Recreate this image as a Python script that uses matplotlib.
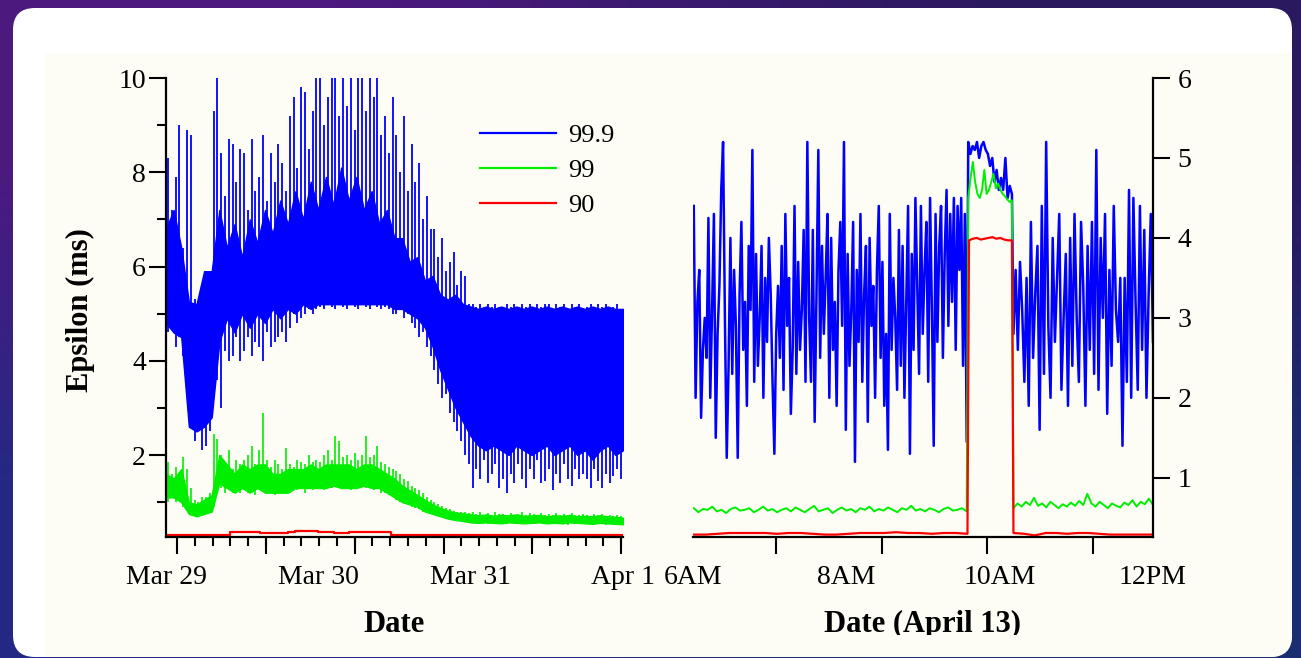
import numpy as np
import matplotlib
matplotlib.use("Agg")
import matplotlib.pyplot as plt
from matplotlib.patches import FancyBboxPatch, Rectangle
from matplotlib.lines import Line2D
from matplotlib.transforms import blended_transform_factory

plt.rcParams["font.family"] = ["Liberation Serif", "DejaVu Serif"]

W, H = 1301, 658
BLUE, GREEN, RED = "#0000ff", "#00ee00", "#ff0000"

# ---------------- left panel (days since Mar 29) ----------------
# solid core of the dense traces, every 0.05 day
left_t = np.linspace(0, 3.0, 61)
blue_lo = [4.8, 4.6, 4.5, 2.6, 2.5, 2.6, 2.8,
           4.4, 4.9, 4.6, 5.0, 4.7, 5.0, 4.8, 5.1, 4.9, 5.1, 5.0, 5.2, 5.1, 5.2,
           5.2, 5.2, 5.2, 5.2, 5.2, 5.2, 5.2, 5.2, 5.2, 5.1,
           5.1, 5.0, 4.9, 4.7, 4.3, 3.8, 3.4, 3.0, 2.7,
           2.4, 2.2, 2.1, 2.2, 2.1, 2.0, 2.2, 2.1, 2.0, 2.1, 2.2, 2.0, 2.1, 2.2, 2.0, 2.1,
           1.9, 2.1, 2.2, 2.0, 2.1]
blue_hi = [6.8, 7.2, 6.4, 5.25, 5.2, 5.9, 5.9,
           7.2, 6.4, 6.9, 6.2, 7.0, 6.5, 7.2, 6.7, 7.4, 6.9, 7.6, 7.0, 7.8, 7.2,
           7.9, 7.3, 8.1, 7.4, 7.9, 7.2, 7.6, 6.9, 7.2, 6.6,
           6.6, 6.1, 6.2, 5.7, 5.8, 5.4, 5.3, 5.4, 5.2,
           5.15, 5.1, 5.15, 5.1, 5.15, 5.1, 5.15, 5.1, 5.15, 5.1, 5.15, 5.1, 5.15, 5.1,
           5.15, 5.1, 5.15, 5.1, 5.15, 5.1, 5.1]
green_lo = [1.1, 1.1, 1.0, 0.75, 0.7, 0.75, 0.8, 1.4, 1.3, 1.2, 1.3, 1.2, 1.3, 1.2, 1.2, 1.2,
            1.2, 1.3, 1.3, 1.3, 1.3, 1.3, 1.35, 1.3, 1.3, 1.3, 1.35, 1.3, 1.3, 1.2, 1.1, 1.0,
            0.95, 0.9, 0.8, 0.75, 0.7, 0.65, 0.62, 0.6, 0.57, 0.56, 0.57, 0.56, 0.55, 0.57,
            0.56, 0.55, 0.56, 0.57, 0.55, 0.56, 0.55, 0.57, 0.56, 0.55, 0.54, 0.56, 0.55,
            0.54, 0.53]
green_hi = [1.6, 1.5, 1.7, 1.0, 0.95, 1.05, 1.15, 2.0, 1.8, 1.6, 1.8, 1.7, 1.8, 1.8, 1.6, 1.6,
            1.7, 1.7, 1.7, 1.8, 1.7, 1.8, 1.8, 1.8, 1.8, 1.7, 1.8, 1.8, 1.7, 1.6, 1.5, 1.35,
            1.25, 1.15, 1.05, 0.95, 0.88, 0.82, 0.78, 0.76, 0.74, 0.72, 0.74, 0.71, 0.73, 0.72,
            0.74, 0.71, 0.72, 0.73, 0.7, 0.72, 0.71, 0.73, 0.7, 0.71, 0.7, 0.72, 0.7,
            0.69, 0.67]

# individual excursions, one stroke every 0.025 day
stroke_t = np.linspace(0.0125, 2.9875, 120)
blue_st_hi = [8.3, 7.2, 7.9, 9.0, 6.4, 8.9, 8.8, 5.3, 5.2, 5.1,
              5.9, 5.9, 9.3, 10.0, 8.4, 7.5, 8.7, 8.6, 7.8, 8.5,
              8.4, 7.2, 8.7, 7.6, 7.9, 8.8, 7.4, 8.4, 7.8, 8.6,
              8.2, 7.6, 9.2, 9.6, 8.1, 9.8, 9.7, 8.5, 9.3, 10.0,
              10.0, 9.0, 9.6, 10.0, 10.0, 9.2, 10.0, 9.4, 10.0, 8.9,
              10.0, 10.0, 9.3, 10.0, 9.6, 10.0, 8.8, 9.2, 8.4, 9.6,
              8.8, 8.0, 9.2, 7.6, 8.6, 7.8, 8.2, 7.0, 7.5, 6.8,
              6.8, 6.2, 6.6, 5.9, 6.1, 6.3, 5.6, 5.9, 5.8, 5.2,
              5.2, 5.15, 5.2, 5.1, 5.2, 5.15, 5.2, 5.15, 5.1, 5.2,
              5.15, 5.2, 5.1, 5.2, 5.15, 5.2, 5.1, 5.2, 5.15, 5.2,
              5.2, 5.1, 5.2, 5.15, 5.2, 5.1, 5.2, 5.15, 5.2, 5.1,
              5.15, 5.2, 5.1, 5.2, 5.15, 5.2, 5.1, 5.15, 5.2, 4.3]
blue_st_lo = [4.6, 5.2, 4.3, 4.5, 4.1, 4.5, 4.4, 2.3, 2.6, 2.1,
              2.2, 2.5, 3.4, 3.6, 3.0, 4.2, 4.0, 4.1, 4.5, 4.0,
              4.2, 4.5, 4.1, 4.4, 4.3, 4.0, 4.6, 4.3, 4.4, 4.5,
              4.6, 4.4, 4.7, 5.0, 4.8, 4.9, 5.0, 5.1, 5.0, 5.1,
              5.15, 5.1, 5.2, 5.15, 5.1, 5.2, 5.15, 5.1, 5.2, 5.15,
              5.1, 5.2, 5.15, 5.1, 5.2, 5.15, 5.1, 5.15, 5.1, 5.0,
              5.0, 5.1, 4.9, 5.0, 4.8, 4.7, 4.5, 4.6, 4.3, 4.1,
              3.8, 3.5, 3.2, 3.3, 2.9, 2.7, 2.5, 2.3, 2.0, 1.8,
              1.3, 1.7, 1.5, 1.9, 1.4, 1.6, 1.8, 1.3, 1.5, 1.2,
              1.6, 1.4, 1.8, 1.5, 1.3, 1.7, 1.5, 1.9, 1.4, 1.45,
              1.7, 1.25, 1.6, 1.4, 1.8, 1.5, 1.35, 1.7, 1.5, 1.6,
              1.5, 1.3, 1.7, 1.45, 1.3, 1.6, 1.4, 1.55, 1.7, 1.5]
green_st_hi = [1.85, 1.6, 1.75, 1.5, 1.95, 1.7, 1.3, 1.05, 1.0, 1.1,
               1.1, 1.2, 2.45, 2.35, 2.0, 1.8, 2.1, 1.7, 1.9, 1.8,
               1.9, 2.0, 2.2, 1.8, 2.1, 2.9, 1.9, 1.75, 1.9, 1.8,
               1.7, 2.15, 1.8, 1.75, 1.9, 1.85, 1.8, 2.0, 1.85, 1.9,
               1.85, 2.0, 2.1, 1.9, 2.4, 2.3, 1.95, 2.0, 1.9, 2.05,
               1.9, 2.0, 2.4, 1.95, 2.0, 2.2, 1.85, 1.8, 1.75, 1.7,
               1.65, 1.6, 1.5, 1.45, 1.35, 1.3, 1.25, 1.2, 1.1, 1.05,
               1.0, 0.95, 0.92, 0.88, 0.85, 0.82, 0.8, 0.8, 0.78, 0.77,
               0.78, 0.74, 0.8, 0.73, 0.76, 0.72, 0.79, 0.74, 0.75, 0.73,
               0.76, 0.73, 0.75, 0.78, 0.72, 0.76, 0.74, 0.73, 0.77, 0.72,
               0.75, 0.72, 0.77, 0.73, 0.74, 0.71, 0.76, 0.73, 0.72, 0.75,
               0.73, 0.71, 0.74, 0.72, 0.75, 0.7, 0.73, 0.71, 0.72, 0.7]
green_st_lo = [1.0, 1.15, 1.0, 1.1, 0.9, 1.0, 0.8, 0.72, 0.75, 0.7,
               0.75, 0.8, 0.9, 1.4, 1.3, 1.2, 1.25, 1.2, 1.3, 1.2,
               1.25, 1.2, 1.3, 1.15, 1.25, 1.3, 1.2, 1.2, 1.15, 1.2,
               1.2, 1.25, 1.2, 1.3, 1.25, 1.3, 1.2, 1.3, 1.25, 1.3,
               1.3, 1.25, 1.35, 1.3, 1.4, 1.3, 1.35, 1.3, 1.25, 1.35,
               1.3, 1.35, 1.3, 1.3, 1.25, 1.3, 1.2, 1.2, 1.15, 1.1,
               1.05, 1.0, 0.98, 0.95, 0.9, 0.88, 0.85, 0.8, 0.78, 0.75,
               0.72, 0.7, 0.68, 0.66, 0.64, 0.62, 0.61, 0.6, 0.58, 0.58,
               0.56, 0.58, 0.55, 0.57, 0.54, 0.56, 0.57, 0.55, 0.56, 0.54,
               0.55, 0.57, 0.54, 0.56, 0.55, 0.57, 0.54, 0.56, 0.55, 0.54,
               0.54, 0.56, 0.53, 0.55, 0.54, 0.52, 0.55, 0.54, 0.53, 0.55,
               0.53, 0.55, 0.52, 0.54, 0.53, 0.52, 0.54, 0.52, 0.53, 0.51]

red_l_t = [0.0, 0.2, 0.41, 0.42, 0.6, 0.62, 0.8, 0.85, 1.0, 1.1, 1.2, 1.25, 1.4, 1.47, 1.48, 2.2, 3.0]
red_l_v = [0.31, 0.31, 0.31, 0.36, 0.37, 0.35, 0.36, 0.38, 0.36, 0.35, 0.37, 0.36, 0.37, 0.37, 0.31, 0.3, 0.3]

left_xlabels = ["Mar 29", "Mar 30", "Mar 31", "Apr 1"]
left_xlabel_pos = [0, 1, 2, 3]
left_major = [0.072, 0.655, 1.238, 1.822, 2.405, 2.988]

# ---------------- right panel (hours, April 13) ----------------
blue_before = [4.4, 2.0, 3.2, 3.6, 1.75, 2.6, 3.0, 2.5, 4.25, 2.0,
               3.1, 4.3, 1.5, 2.8, 3.4, 4.6, 5.2, 3.0, 1.25, 2.4,
               4.0, 2.3, 3.6, 2.9, 1.25, 3.3, 4.2, 2.6, 3.2, 1.9,
               3.9, 3.1, 5.1, 2.2, 3.8, 2.4, 3.0, 3.9, 2.0, 3.5,
               2.7, 4.0, 3.3, 2.2, 1.3, 2.8, 3.4, 2.5, 3.9, 2.1,
               4.3, 2.9, 3.5, 1.8, 2.6, 4.4, 2.3, 3.7, 2.6, 3.1,
               4.1, 2.2, 5.2, 3.0, 2.2, 4.1, 1.7, 3.3, 5.1, 2.5,
               3.9, 2.8, 3.5, 4.3, 2.0, 4.0, 2.6, 3.2, 1.9, 3.6,
               4.2, 2.9, 5.2, 1.6, 3.8, 2.4, 3.1, 4.2, 1.2, 3.6,
               2.7, 4.3, 2.2, 3.3, 3.9, 1.7, 4.0, 2.9, 3.4, 2.0,
               3.6, 4.4, 2.5, 3.7, 1.9, 2.8, 1.35, 4.3, 2.6, 3.5,
               3.0, 2.1, 4.1, 2.4, 3.9, 2.0, 3.2, 4.4, 1.3, 3.8,
               2.6, 4.5, 3.4, 2.3, 4.4, 2.8, 3.6, 4.2, 2.2, 4.5,
               3.1, 1.4, 4.3, 2.7, 3.9, 4.4, 2.5, 3.8, 4.6, 2.9,
               4.3, 3.2, 4.5, 2.6, 4.4, 3.6, 4.5, 2.4, 4.3, 1.45]
blue_plateau = [5.2, 5.05, 5.15, 5.1, 5.2, 5.0, 5.15, 5.2, 5.1, 5.05, 4.9, 5.0, 4.7, 4.85,
                4.6, 4.75, 4.6, 5.0, 4.5, 4.65, 4.55]
blue_after = [2.8, 3.6, 2.6, 3.7, 3.1, 2.2, 3.5, 1.9, 4.2, 2.5,
              3.3, 3.9, 1.6, 4.4, 2.3, 5.2, 2.9, 2.0, 4.0, 2.7,
              3.5, 4.3, 2.1, 3.0, 3.8, 1.9, 4.0, 2.4, 4.3, 3.0,
              2.2, 4.2, 3.4, 1.9, 3.9, 2.6, 4.2, 2.3, 5.1, 2.1,
              4.0, 3.0, 4.3, 1.8, 3.6, 2.4, 4.4, 3.1, 2.7, 3.5,
              1.4, 3.5, 2.2, 4.6, 2.0, 4.5, 3.2, 2.1, 4.4, 2.6,
              4.1, 2.0, 3.3, 4.3, 2.7]
green_before = [0.62, 0.57, 0.61, 0.6, 0.64, 0.58, 0.6, 0.56, 0.61, 0.63, 0.59, 0.6, 0.62,
                0.57, 0.6, 0.64, 0.59, 0.61, 0.57, 0.6, 0.62, 0.58, 0.63, 0.6, 0.57, 0.61,
                0.65, 0.58, 0.6, 0.62, 0.56, 0.6, 0.63, 0.59, 0.61, 0.57, 0.62, 0.6, 0.64,
                0.58, 0.61, 0.59, 0.63, 0.6, 0.57, 0.62, 0.6, 0.65, 0.59, 0.61, 0.58, 0.62,
                0.6, 0.57, 0.61, 0.63, 0.59, 0.6, 0.62, 0.58]
green_plateau = [4.5, 4.75, 4.95, 4.7, 4.55, 4.5, 4.6, 4.85, 4.55, 4.6, 4.7, 4.8, 4.62, 4.68,
                 4.6, 4.55, 4.52, 4.48, 4.45, 4.47]
green_after = [0.62, 0.68, 0.64, 0.7, 0.66, 0.75, 0.65, 0.68, 0.63, 0.7, 0.66, 0.62, 0.67,
               0.64, 0.69, 0.65, 0.71, 0.66, 0.8, 0.68, 0.64, 0.7, 0.66, 0.62, 0.68, 0.65,
               0.63, 0.69, 0.66, 0.72, 0.64, 0.7, 0.67, 0.74, 0.66]
red_before = [0.29, 0.29, 0.3, 0.31, 0.31, 0.31, 0.31, 0.3, 0.31, 0.31, 0.3, 0.29, 0.29, 0.3,
              0.31, 0.31, 0.31, 0.32, 0.31, 0.31, 0.3, 0.31, 0.31, 0.3]
red_plateau = [3.97, 3.99, 4.0, 3.98, 3.99, 4.0, 4.01, 3.99, 4.0, 3.98, 3.97, 3.97]
red_after = [0.31, 0.3, 0.28, 0.31, 0.31, 0.3, 0.31, 0.31, 0.3, 0.29, 0.29, 0.29, 0.29, 0.29]

right_xlabels = ["6AM", "8AM", "10AM", "12PM"]
right_xlabel_pos = [6, 8, 10, 12]
right_major = [7.08, 8.46, 9.84, 11.22]
# segment boundaries (hours)
t_start, t_up, t_down, t_end = 6.01, 9.59, 10.17, 12.0

fig = plt.figure(figsize=(W / 100, H / 100), dpi=100)

# backdrop + card
bg = fig.add_axes([0, 0, 1, 1])
bg.set_xlim(0, W); bg.set_ylim(H, 0); bg.axis("off")
grad = np.array([[[0.30, 0.10, 0.50], [0.17, 0.10, 0.38]],
                 [[0.14, 0.16, 0.52], [0.10, 0.18, 0.44]]])
bg.imshow(grad, extent=[0, W, H, 0], interpolation="bilinear", aspect="auto")
card = FancyBboxPatch((13, 8), 1279, 649, boxstyle="round,pad=0,rounding_size=22",
                      fc="white", ec="none")
bg.add_patch(card)
cream = Rectangle((45, 53), W, H, fc="#fdfdf6", ec="none")
bg.add_patch(cream)
cream.set_clip_path(card)


def style(ax):
    ax.set_facecolor("none")
    for s in ax.spines.values():
        s.set_linewidth(1.6)
    ax.tick_params(which="major", length=12.5, width=1.5, labelsize=20)
    ax.tick_params(which="minor", length=6.5, width=1.5)


ax1 = fig.add_axes([166 / W, 1 - 537 / H, 457 / W, 459 / H])
style(ax1)
ax1.spines[["top", "right"]].set_visible(False)
ax1.fill_between(left_t, blue_lo, blue_hi, color=BLUE, lw=1.0)
ax1.vlines(stroke_t, blue_st_lo, blue_st_hi, color=BLUE, lw=1.3)
ax1.fill_between(left_t, green_lo, green_hi, color=GREEN, lw=1.0)
ax1.vlines(stroke_t, green_st_lo, green_st_hi, color=GREEN, lw=1.2)
ax1.plot(red_l_t, red_l_v, color=RED, lw=1.6, drawstyle="steps-post")
ax1.set_xlim(0, 3.0)
ax1.set_ylim(0.26, 10)
ax1.set_yticks([2, 4, 6, 8, 10])
ax1.set_yticks([1, 3, 5, 7, 9], minor=True)
ax1.tick_params(axis="y", pad=2)
ax1.set_xticks(left_major, labels=[])
ax1.set_xticks(np.arange(0.072, 3.0, 0.58333 / 5), minor=True)
tr1 = blended_transform_factory(ax1.transData, ax1.transAxes)
for p, lab in zip(left_xlabel_pos, left_xlabels):
    ax1.text(p, -0.102, lab, transform=tr1, ha="center", va="baseline", fontsize=20)

handles = [Line2D([], [], color=c, lw=1.6) for c in (BLUE, GREEN, RED)]
ax1.legend(handles, ["99.9", "99", "90"], loc="upper left", bbox_to_anchor=(0.687, 0.90),
           frameon=False, fontsize=19, handlelength=2.9, handletextpad=0.45,
           labelspacing=0.43, borderpad=0, borderaxespad=0)

ax2 = fig.add_axes([693 / W, 1 - 537 / H, 460 / W, 459 / H])
style(ax2)
ax2.spines[["top", "left"]].set_visible(False)
ax2.yaxis.tick_right()
ax2.tick_params(axis="y", pad=5)


def seg_times(vals, a, b):
    return np.linspace(a, b, len(vals))


rt_blue = np.concatenate([seg_times(blue_before, t_start, t_up - 0.02),
                          seg_times(blue_plateau, t_up, t_down - 0.01),
                          seg_times(blue_after, t_down + 0.01, t_end)])
rt_green = np.concatenate([seg_times(green_before, t_start, t_up - 0.02),
                           seg_times(green_plateau, t_up, t_down - 0.01),
                           seg_times(green_after, t_down + 0.01, t_end)])
rt_red = np.concatenate([seg_times(red_before, t_start, t_up - 0.01),
                         seg_times(red_plateau, t_up + 0.01, t_down - 0.01),
                         seg_times(red_after, t_down + 0.01, t_end)])
ax2.plot(rt_blue, blue_before + blue_plateau + blue_after, color=BLUE, lw=1.8)
ax2.plot(rt_green, green_before + green_plateau + green_after, color=GREEN, lw=1.4)
ax2.plot(rt_red, red_before + red_plateau + red_after, color=RED, lw=1.6)
ax2.set_xlim(6.0, 12.0)
ax2.set_ylim(0.26, 6)
ax2.set_yticks([1, 2, 3, 4, 5, 6])
ax2.set_xticks(right_major, labels=[])
tr2 = blended_transform_factory(ax2.transData, ax2.transAxes)
for p, lab in zip(right_xlabel_pos, right_xlabels):
    ax2.text(p, -0.102, lab, transform=tr2, ha="center", va="baseline", fontsize=20)

# axis titles
fig.text(80 / W, 1 - 310 / H, "Epsilon (ms)", rotation=90, ha="center", va="center",
         fontsize=22, weight="bold")
fig.text(394 / W, 1 - 632 / H, "Date", ha="center", va="baseline", fontsize=22, weight="bold")
t2 = fig.text(923 / W, 1 - 632 / H, "Date (April 13)", ha="center", va="baseline",
              fontsize=22, weight="bold")
clip = Rectangle((0, 1 - 635 / H), 1, 635 / H, transform=fig.transFigure)
t2.set_clip_path(clip)

fig.savefig("out.png", dpi=100)
